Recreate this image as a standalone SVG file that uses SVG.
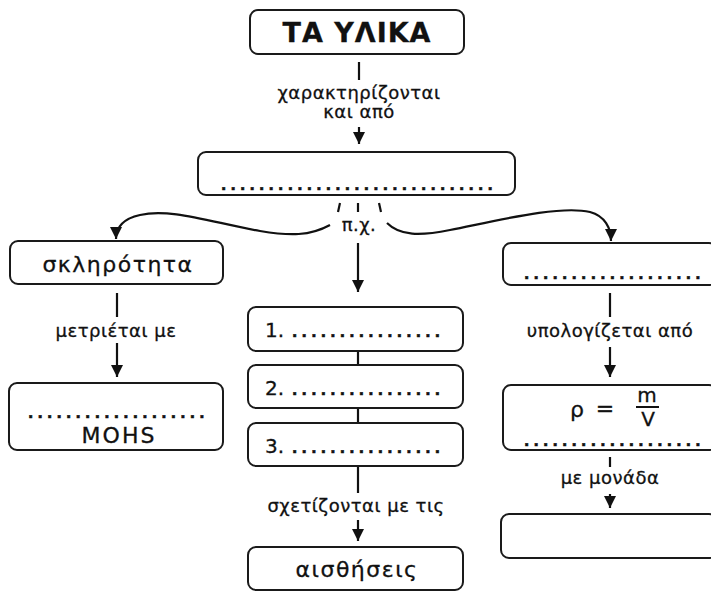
<svg xmlns="http://www.w3.org/2000/svg" width="711" height="594" viewBox="0 0 711 594">
<defs>
<marker id="ah" viewBox="0 0 10 10" refX="10" refY="5" markerWidth="12" markerHeight="12" markerUnits="userSpaceOnUse" orient="auto">
<path d="M0,0 L10,5 L0,10 z" fill="#111"/>
</marker>
<style>
.box{fill:#fff;stroke:#1a1a1a;stroke-width:2}
.ln{fill:none;stroke:#111;stroke-width:2.2}
.t{font-family:"DejaVu Sans","Liberation Sans",sans-serif;fill:#111;text-anchor:middle;stroke:#111;stroke-width:0.3}
.lbl{font-size:18px;letter-spacing:0.5px}
.big{font-size:22px;letter-spacing:1.5px}
.dots{font-family:"DejaVu Sans",sans-serif;font-size:14px;font-weight:bold;letter-spacing:4.2px;fill:#111;stroke:#111;stroke-width:0.6}
</style>
</defs>
<rect width="711" height="594" fill="#fff"/>

<g id="connectors">
<line class="ln" x1="359" y1="62" x2="359" y2="80"/>
<line class="ln" x1="359" y1="127" x2="359" y2="144" marker-end="url(#ah)"/>
<line class="ln" x1="340" y1="203" x2="338" y2="212" stroke-width="2.5"/>
<line class="ln" x1="358" y1="203" x2="358" y2="212" stroke-width="2.5"/>
<line class="ln" x1="379" y1="203" x2="381" y2="212" stroke-width="2.5"/>
<path class="ln" d="M330,225 C310,236 290,236 260,231 C210,222 170,208 140,215 C122,219 116,228 116,239" marker-end="url(#ah)"/>
<path class="ln" d="M387,223 C400,236 420,236 450,230 C500,220 560,205 590,212 C605,216 611,228 611,241" marker-end="url(#ah)"/>
<line class="ln" x1="358" y1="243" x2="358" y2="292" marker-end="url(#ah)"/>
<line class="ln" x1="117" y1="293" x2="117" y2="317"/>
<line class="ln" x1="117" y1="343" x2="117" y2="377" marker-end="url(#ah)"/>
<line class="ln" x1="358" y1="351" x2="358" y2="365"/>
<line class="ln" x1="358" y1="408" x2="358" y2="423"/>
<line class="ln" x1="358" y1="466" x2="358" y2="493"/>
<line class="ln" x1="358" y1="520" x2="358" y2="541" marker-end="url(#ah)"/>
<line class="ln" x1="610" y1="293" x2="610" y2="317"/>
<line class="ln" x1="610" y1="347" x2="610" y2="377" marker-end="url(#ah)"/>
<line class="ln" x1="610" y1="457" x2="610" y2="467"/>
<line class="ln" x1="610" y1="494" x2="610" y2="508" marker-end="url(#ah)"/>
<text class="t lbl" x="359" y="99">χαρακτηρίζονται</text>
<text class="t lbl" x="359" y="118">και από</text>
<text class="t lbl" x="359" y="231">π.χ.</text>
<text class="t lbl" x="116" y="337">μετριέται με</text>
<text class="t lbl" x="610" y="337">υπολογίζεται από</text>
<text class="t lbl" x="356" y="512">σχετίζονται με τις</text>
<text class="t lbl" x="610" y="484">με μονάδα</text>
</g>

<g id="n-title">
<rect class="box" x="250" y="10" width="214" height="44" rx="8"/>
<text class="t" x="357" y="42" font-size="27" font-weight="bold" letter-spacing="1">ΤΑ ΥΛΙΚΑ</text>
</g>

<g id="n-prop">
<rect class="box" x="198" y="152" width="317" height="43" rx="8"/>
<text class="dots" x="221" y="190">.............................</text>
</g>

<g id="n-hard">
<rect class="box" x="10" y="241" width="213" height="43" rx="8"/>
<text class="t big" x="118" y="272">σκληρότητα</text>
</g>

<g id="n-mohs">
<rect class="box" x="9" y="383" width="214" height="67" rx="8"/>
<text class="dots" x="28" y="418">...................</text>
<text class="t big" x="119" y="443" style="letter-spacing:2px">MOHS</text>
</g>

<g id="n-1">
<rect class="box" x="248" y="307" width="215" height="44" rx="8"/>
<text class="t" x="265" y="337" font-size="20" style="text-anchor:start">1.<tspan class="dots" dx="8">................</tspan></text>
</g>
<g id="n-2">
<rect class="box" x="248" y="365" width="215" height="43" rx="8"/>
<text class="t" x="265" y="395" font-size="20" style="text-anchor:start">2.<tspan class="dots" dx="8">................</tspan></text>
</g>
<g id="n-3">
<rect class="box" x="248" y="423" width="215" height="43" rx="8"/>
<text class="t" x="265" y="453" font-size="20" style="text-anchor:start">3.<tspan class="dots" dx="8">................</tspan></text>
</g>

<g id="n-senses">
<rect class="box" x="248" y="547" width="215" height="43" rx="8"/>
<text class="t big" x="357" y="577">αισθήσεις</text>
</g>

<g id="n-density">
<rect class="box" x="503" y="243" width="214" height="42" rx="8"/>
<text class="dots" x="524" y="279">...................</text>
</g>

<g id="n-formula">
<rect class="box" x="503" y="385" width="214" height="65" rx="8"/>
<text class="t" x="577" y="417" font-size="22">ρ</text>
<text class="t" x="605" y="416" font-size="22">=</text>
<text class="t" x="647" y="402" font-size="20">m</text>
<line x1="636" y1="407" x2="659" y2="407" stroke="#111" stroke-width="2"/>
<text class="t" x="648" y="426" font-size="20">V</text>
<text class="dots" x="524" y="446">...................</text>
</g>

<g id="n-unit">
<rect class="box" x="501" y="514" width="216" height="44" rx="8"/>
</g>
</svg>
